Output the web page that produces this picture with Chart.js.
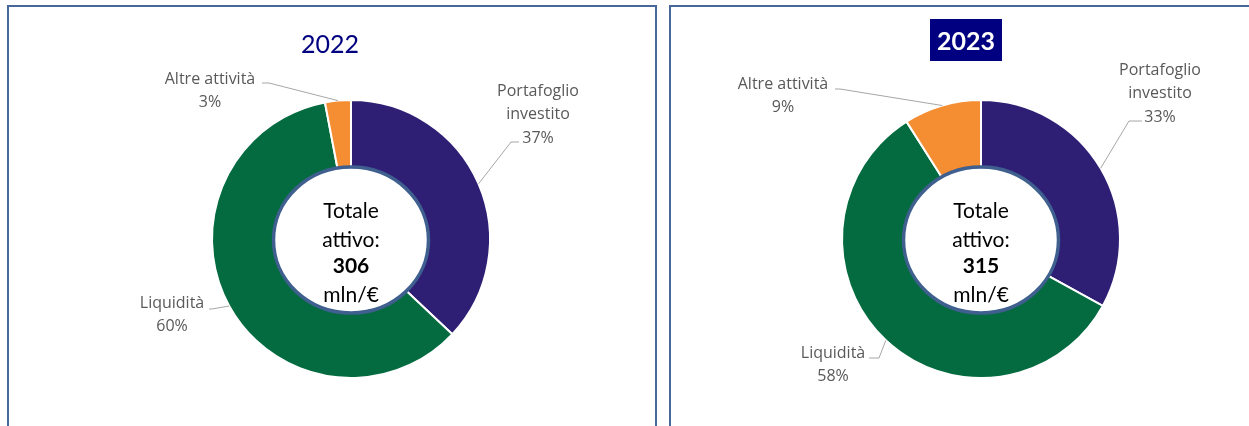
<!DOCTYPE html>
<html>
<head>
<meta charset="utf-8">
<script src="https://cdn.jsdelivr.net/npm/chart.js@4.4.1/dist/chart.umd.min.js"></script>
<style>
    body { margin: 0; background: #ffffff; overflow: hidden; width: 1249px; height: 426px; }
    .panel { position: absolute; top: 5px; height: 440px; border: 2px solid #46699a; background: #fff; }
    #panel2022 { left: 7px; width: 646px; }
    #panel2023 { left: 669px; width: 600px; }
    canvas { display: block; }
</style>
</head>
<body>
<div class="panel" id="panel2022"><canvas id="chart2022" width="646" height="430"></canvas></div>
<div class="panel" id="panel2023"><canvas id="chart2023" width="600" height="430"></canvas></div>
<script>
// Dati
const categories = [['Portafoglio', 'investito'], ['Liquidità'], ['Altre attività']];
const values2022 = [37, 60, 3];
const values2023 = [33, 58, 9];
const totals = ['306', '315'];
const years = ['2022', '2023'];
const colors = ['#2e1f75', '#036b3f', '#f58d32'];

const FONT = 'Lato, "Open Sans", sans-serif';
const LABEL_FONT = '"Open Sans", Lato, sans-serif';

// Etichette con linee guida + testo centrale + titolo
function donutDecor(opts) {
    return {
        id: 'donutDecor',
        afterDraw(chart) {
            const ctx = chart.ctx;
            const arcs = chart.getDatasetMeta(0).data;
            const values = chart.data.datasets[0].data;
            const cx = arcs[0].x, cy = arcs[0].y;
            ctx.save();

            // ovale centrale
            ctx.beginPath();
            ctx.ellipse(cx, cy + 1, 77.5, 73, 0, 0, Math.PI * 2);
            ctx.fillStyle = '#ffffff';
            ctx.fill();
            ctx.lineWidth = 3.5;
            ctx.strokeStyle = '#3f5f8f';
            ctx.stroke();

            ctx.fillStyle = '#000000';
            ctx.textAlign = 'center';
            ctx.textBaseline = 'alphabetic';
            ctx.font = '21px ' + FONT;
            ctx.fillText('Totale', cx, cy - 21);
            ctx.fillText('attivo:', cx, cy + 8);
            ctx.font = 'bold 21px ' + FONT;
            ctx.fillText(opts.total, cx, cy + 34);
            ctx.font = '21px ' + FONT;
            ctx.fillText('mln/€', cx, cy + 63);

            // etichette
            arcs.forEach((arc, i) => {
                const lay = opts.labels[i];
                const mid = (arc.startAngle + arc.endAngle) / 2;
                const ax = cx + Math.cos(mid) * arc.outerRadius;
                const ay = cy + Math.sin(mid) * arc.outerRadius;
                ctx.beginPath();
                ctx.moveTo(lay.start[0], lay.start[1]);
                ctx.lineTo(lay.elbow[0], lay.elbow[1]);
                ctx.lineTo(ax, ay);
                ctx.lineWidth = 1;
                ctx.strokeStyle = '#a6a6a6';
                ctx.stroke();

                const lines = chart.data.labels[i].concat([values[i] + '%']);
                ctx.fillStyle = '#595959';
                ctx.font = '16px ' + LABEL_FONT;
                ctx.textBaseline = 'middle';
                lines.forEach((t, k) => ctx.fillText(t, lay.x, lay.y + k * 23.5));
            });

            // titolo
            ctx.textBaseline = 'alphabetic';
            if (opts.box) {
                ctx.fillStyle = '#000080';
                ctx.fillRect(opts.box[0], opts.box[1], opts.box[2], opts.box[3]);
                ctx.fillStyle = '#ffffff';
                ctx.font = 'bold 25px ' + FONT;
            } else {
                ctx.fillStyle = '#000080';
                ctx.font = '25px ' + FONT;
            }
            ctx.fillText(opts.title, opts.titleX, opts.titleY);
            ctx.restore();
        }
    };
}

function makeDonut(canvasId, values, padding, decor) {
    return new Chart(document.getElementById(canvasId), {
        type: 'doughnut',
        data: {
            labels: categories,
            datasets: [{
                data: values,
                backgroundColor: colors,
                borderColor: '#ffffff',
                borderWidth: 2
            }]
        },
        options: {
            responsive: false,
            animation: false,
            cutout: '50%',
            layout: { padding: padding },
            plugins: {
                legend: { display: false },
                tooltip: { enabled: false }
            }
        },
        plugins: [donutDecor(decor)]
    });
}

makeDonut('chart2022', values2022, { left: 202, right: 164, top: 92, bottom: 58 }, {
    total: totals[0],
    title: years[0], titleX: 321, titleY: 46,
    labels: [
        { x: 529, y: 84, start: [510, 135], elbow: [502, 135] },
        { x: 163, y: 296, start: [200, 302], elbow: [203, 302] },
        { x: 201, y: 72, start: [253, 76], elbow: [260, 76] }
    ]
});

makeDonut('chart2023', values2023, { left: 170, right: 150, top: 92, bottom: 58 }, {
    total: totals[1],
    title: years[1], titleX: 295, titleY: 43, box: [259, 12, 72, 42],
    labels: [
        { x: 489, y: 63, start: [471, 114], elbow: [458, 114] },
        { x: 162, y: 346, start: [198, 351], elbow: [208, 351] },
        { x: 112, y: 77, start: [164, 82], elbow: [169, 82] }
    ]
});
</script>
</body>
</html>
